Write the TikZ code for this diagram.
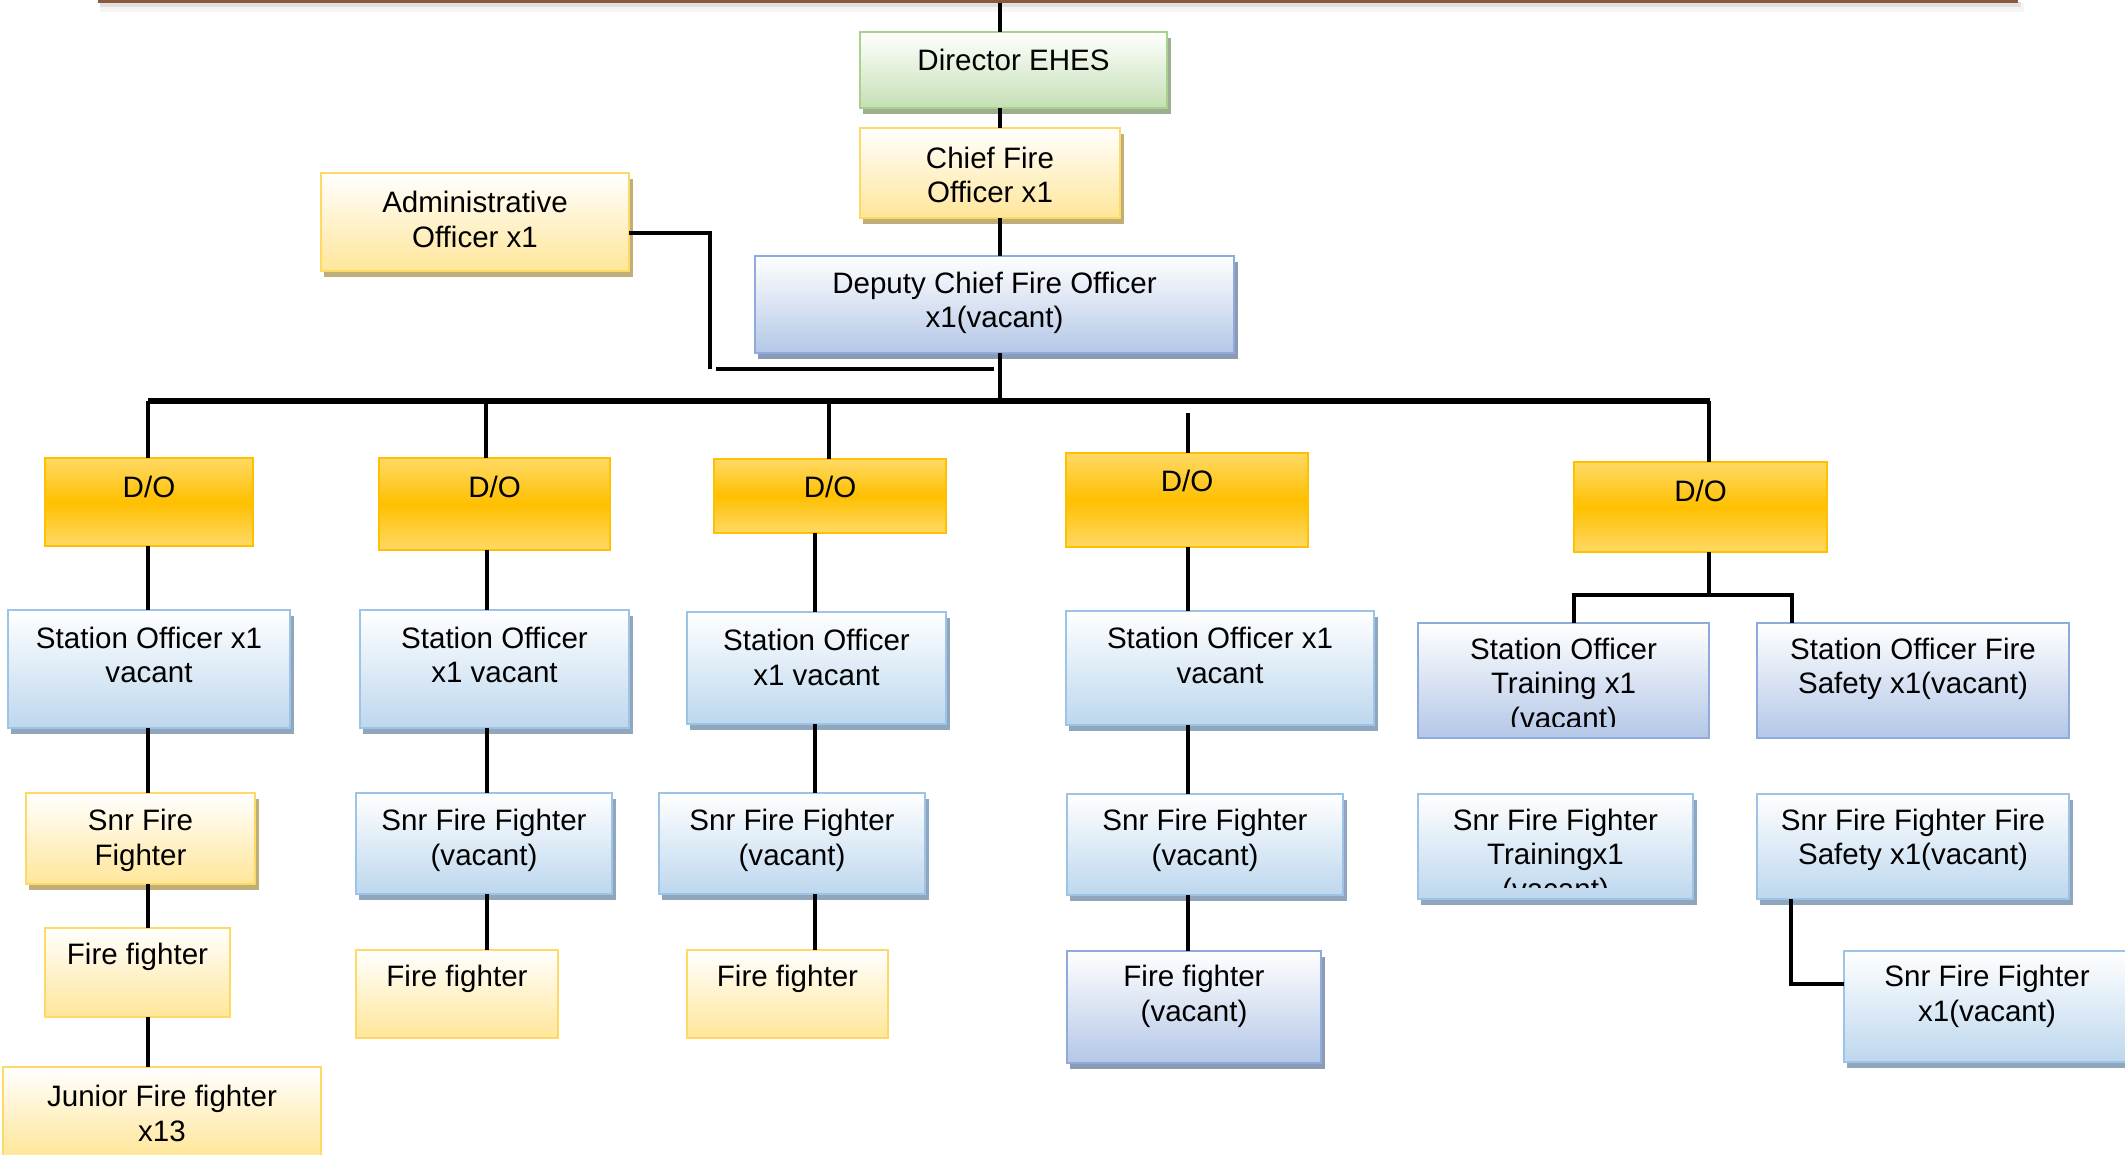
\documentclass[tikz,border=0pt]{standalone}
\usepackage{fontspec}
\setmainfont{Liberation Sans}
\usetikzlibrary{shadows,calc}
\definecolor{yelB}{HTML}{FFE699}
\definecolor{yelD}{HTML}{FFD966}
\definecolor{yelS}{HTML}{BFAE78}
\definecolor{grnB}{HTML}{C5E0B4}
\definecolor{grnD}{HTML}{A9D18E}
\definecolor{grnS}{HTML}{9DAE91}
\definecolor{lbB}{HTML}{BDD7EE}
\definecolor{lbD}{HTML}{9DC3E6}
\definecolor{lbS}{HTML}{8FA6BC}
\definecolor{blB}{HTML}{B4C7E7}
\definecolor{blD}{HTML}{8FAADC}
\definecolor{blS}{HTML}{8C9AB4}
\definecolor{doL}{HTML}{FFD966}
\definecolor{doM}{HTML}{FFC000}
\definecolor{barC}{HTML}{8B5A3C}
\newcommand\txtfont{\fontsize{8.4pt}{9.85pt}\selectfont}
\newcommand\obox[8]{%
  \pgfmathsetmacro\oboxw{((#5)-(#3))*0.284528}%
  \pgfmathsetmacro\oboxh{((#6)-(#4))*0.284528}%
  \pgfmathsetmacro\oboxx{((#3)+(#5))/2}%
  \pgfmathsetmacro\oboxy{((#4)+(#6))/2}%
  \node[#2, minimum width=\oboxw pt, minimum height=\oboxh pt] (#1) at (\oboxx,\oboxy) {};%
  \node[txt] (#1-t) at (\oboxx,#7) {#8};%
}
\newcommand\oboxc[9]{%
  \pgfmathsetmacro\oboxw{((#5)-(#3))*0.284528}%
  \pgfmathsetmacro\oboxh{((#6)-(#4))*0.284528}%
  \pgfmathsetmacro\oboxx{((#3)+(#5))/2}%
  \pgfmathsetmacro\oboxy{((#4)+(#6))/2}%
  \node[#2, minimum width=\oboxw pt, minimum height=\oboxh pt] (#1) at (\oboxx,\oboxy) {};%
  \begin{scope}
    \clip (#3,#4) rectangle (#5,#9);
    \node[txt] (#1-t) at (\oboxx,#7) {#8};
  \end{scope}%
}
\tikzset{
  txt/.style={font=\txtfont, align=center, inner sep=0pt, outer sep=0pt},
  box/.style={rectangle, inner sep=0pt, outer sep=0pt, line width=0.025cm},
  shd/.style={drop shadow={shadow xshift=0.035cm, shadow yshift=-0.06cm, fill=#1, opacity=1}},
  yellowflat/.style={box, draw=yelD, top color=white, bottom color=yelB},
  yellowbox/.style={yellowflat, shd=yelS},
  greenbox/.style={box, draw=grnD, top color=white, bottom color=grnB, shd=grnS},
  lbluebox/.style={box, draw=lbD, top color=white, bottom color=lbB, shd=lbS},
  blueflat/.style={box, draw=blD, top color=white, bottom color=blB},
  bluebox/.style={blueflat, shd=blS},
  dobox/.style={box, draw=doM, top color=doL, bottom color=doL, middle color=doM},
  conn/.style={draw=black, line width=0.04cm, line join=miter},
  bus/.style={draw=black, line width=0.05cm}
}
\begin{document}
\begin{tikzpicture}[x=0.01cm, y=-0.01cm]
\useasboundingbox (0,0) rectangle (2125,1155);
% top bar with soft shadow
\fill[black!4] (100,3) rectangle (2024,12);
\fill[black!12] (100,2) rectangle (2021,7);
\fill[barC] (98,-4) rectangle (2018,3.5);

% boxes
\obox{dir}{greenbox}{860}{32}{1167}{108}{60}{Director EHES}
\obox{chief}{yellowbox}{860}{128}{1120}{218}{175}{Chief Fire\\Officer x1}
\obox{admin}{yellowbox}{321}{173}{629}{271}{219.5}{Administrative\\Officer x1}
\obox{dcfo}{bluebox}{755}{256}{1234}{353}{303}{Deputy Chief Fire Officer\\x1(vacant)}

\obox{do1}{dobox}{45}{458}{253}{546}{487}{D/O}
\obox{do2}{dobox}{379}{458}{610}{550}{486.5}{D/O}
\obox{do3}{dobox}{714}{459}{946}{533}{487}{D/O}
\obox{do4}{dobox}{1066}{453}{1308}{547}{481}{D/O}
\obox{do5}{dobox}{1574}{462}{1827}{552}{491}{D/O}

\obox{so1}{lbluebox}{8}{610}{290}{728}{655}{Station Officer x1\\vacant}
\obox{so2}{lbluebox}{360}{610}{629}{728}{655}{Station Officer\\x1 vacant}
\obox{so3}{lbluebox}{687}{612}{946}{724}{657.5}{Station Officer\\x1 vacant}
\obox{so4}{lbluebox}{1066}{611}{1374}{725}{655.5}{Station Officer x1\\vacant}
\oboxc{sot}{blueflat}{1418}{623}{1709}{738}{686}{Station Officer\\Training x1\\(vacant)}{726}
\obox{sofs}{blueflat}{1757}{623}{2069}{738}{669}{Station Officer Fire\\Safety x1(vacant)}

\obox{sff1}{yellowbox}{26}{793}{255}{884}{840.5}{Snr Fire\\Fighter}
\obox{sff2}{lbluebox}{356}{793}{612}{894}{840.5}{Snr Fire Fighter\\(vacant)}
\obox{sff3}{lbluebox}{659}{793}{925}{894}{840.5}{Snr Fire Fighter\\(vacant)}
\obox{sff4}{lbluebox}{1067}{794}{1343}{895}{840.5}{Snr Fire Fighter\\(vacant)}
\oboxc{sfft}{lbluebox}{1418}{794}{1693}{899}{857}{Snr Fire Fighter\\Trainingx1\\(vacant)}{887}
\obox{sfffs}{lbluebox}{1757}{794}{2069}{899}{840}{Snr Fire Fighter Fire\\Safety x1(vacant)}
\obox{sffx}{lbluebox}{1844}{951}{2130}{1062}{996.5}{Snr Fire Fighter\\x1(vacant)}

\obox{ff1}{yellowflat}{45}{928}{230}{1017}{957}{Fire fighter}
\obox{jff}{yellowflat}{3}{1067}{321}{1156}{1113.5}{Junior Fire fighter\\x13}
\obox{ff2}{yellowflat}{356}{950}{558}{1038}{979}{Fire fighter}
\obox{ff3}{yellowflat}{687}{950}{888}{1038}{979}{Fire fighter}
\obox{ff4}{bluebox}{1067}{951}{1321}{1063}{996.5}{Fire fighter\\(vacant)}

% connectors
\coordinate (xa) at (1000,3);
\coordinate (busL) at (148,401);
\coordinate (busR) at (1710,401);
\draw[conn] (xa) -- (xa |- dir.north);
\draw[conn] (dir.south -| xa) -- (chief.north -| xa);
\draw[conn] (chief.south -| xa) -- (dcfo.north -| xa);
\draw[conn] (dcfo.south -| xa) -- (xa |- busL);
\draw[bus] (busL) -- (busR);

\coordinate (adm1) at (710,369);
\coordinate (adm2) at (994,369);
\draw[conn] ($(admin.east)+(0,11)$) -| (adm1);
\draw[conn] ($(adm1)+(6,0)$) -- (adm2);

\coordinate (k1) at (148,401);
\coordinate (k2) at (486,401);
\coordinate (k3) at (829,401);
\coordinate (k4) at (1188,413);
\coordinate (k5) at (1709,401);
\draw[conn] (k1) -- (k1 |- do1.north);
\draw[conn] (k2) -- (k2 |- do2.north);
\draw[conn] (k3) -- (k3 |- do3.north);
\draw[conn] (k4) -- (k4 |- do4.north);
\draw[conn] (k5) -- (k5 |- do5.north);

\coordinate (c1) at (148,0);
\coordinate (c2) at (487,0);
\coordinate (c3) at (815,0);
\coordinate (c4) at (1188,0);
\draw[conn] (do1.south -| c1) -- (so1.north -| c1);
\draw[conn] (so1.south -| c1) -- (sff1.north -| c1);
\draw[conn] (sff1.south -| c1) -- (ff1.north -| c1);
\draw[conn] (ff1.south -| c1) -- (jff.north -| c1);
\draw[conn] (do2.south -| c2) -- (so2.north -| c2);
\draw[conn] (so2.south -| c2) -- (sff2.north -| c2);
\draw[conn] (sff2.south -| c2) -- (ff2.north -| c2);
\draw[conn] (do3.south -| c3) -- (so3.north -| c3);
\draw[conn] (so3.south -| c3) -- (sff3.north -| c3);
\draw[conn] (sff3.south -| c3) -- (ff3.north -| c3);
\draw[conn] (do4.south -| c4) -- (so4.north -| c4);
\draw[conn] (so4.south -| c4) -- (sff4.north -| c4);
\draw[conn] (sff4.south -| c4) -- (ff4.north -| c4);

\coordinate (c5) at (1709,595);
\coordinate (t1) at (1574,595);
\coordinate (t2) at (1792,595);
\draw[conn] (do5.south -| c5) -- (c5);
\draw[conn] (t1 |- sot.north) -- (t1) -- (t2) -- (t2 |- sofs.north);

\coordinate (f1) at (1791,984);
\draw[conn] (sfffs.south -| f1) -- (f1) -- (f1 -| sffx.west);
\end{tikzpicture}
\end{document}
